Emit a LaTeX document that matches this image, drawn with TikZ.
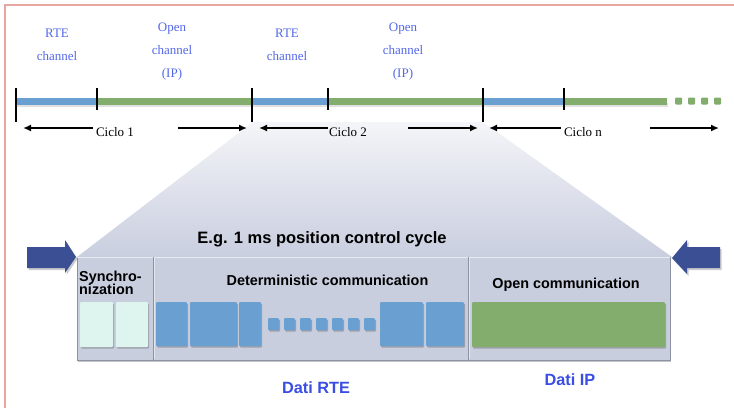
\documentclass[tikz,border=0pt]{standalone}
\usepackage{fontspec}
\setmainfont{Liberation Serif}
\setsansfont{Liberation Sans}
\usetikzlibrary{arrows.meta,shadows}

\definecolor{rteblue}{HTML}{6A9FD2}
\definecolor{ipgreen}{HTML}{82AD6C}
\definecolor{labelblue}{HTML}{5468E8}
\definecolor{datiblue}{HTML}{3A4EE4}
\definecolor{framepink}{HTML}{E8A69E}
\definecolor{panel}{HTML}{C9CEDF}
\definecolor{paneltop}{HTML}{F4F5F8}
\definecolor{edge}{HTML}{8C92A2}
\definecolor{syncfill}{HTML}{DDF5EE}
\definecolor{pointer}{HTML}{3B4F95}

\tikzset{
  chan/.style={font=\fontsize{13}{23}\selectfont, text=labelblue, align=center, inner sep=0pt},
  cyc/.style={font=\fontsize{13}{15}\selectfont, inner sep=0pt, anchor=base},
  cycarrow/.style={-{Latex[length=8pt,width=7pt]}, line width=1.9pt},
  seg/.style={line width=7pt, line cap=butt},
  tickmark/.style={line width=2.8pt, line cap=butt},
  softshadow/.style={drop shadow={shadow xshift=1pt, shadow yshift=-1.5pt, opacity=0.35, fill=black!70}},
  block/.style={rounded corners=1pt, softshadow},
  syncblock/.style={block, fill=syncfill},
  rteblock/.style={block, fill=rteblue},
  ipblock/.style={block, fill=ipgreen},
  head/.style={font=\sffamily\bfseries\fontsize{14.4}{15}\selectfont, inner sep=0pt},
  dati/.style={font=\sffamily\bfseries\fontsize{16.3}{18}\selectfont, text=datiblue, inner sep=0pt, anchor=base},
  pointerarrow/.style={fill=pointer, drop shadow={shadow xshift=1.5pt, shadow yshift=-2pt, opacity=0.4}}
}

\begin{document}
\begin{tikzpicture}[x=1pt,y=-1pt]
\useasboundingbox (0,0) rectangle (734,408);
\fill[white] (0,0) rectangle (734,408);

% page frame
\draw[framepink, line width=1.3pt] (5,408) -- (5,5) -- (734,5);

% zoom funnel from the second cycle down to the panel
\shade[top color=paneltop, bottom color=panel]
  (253,122) -- (483,122) -- (672,257) -- (77,257) -- cycle;

% panel
\fill[panel, drop shadow={shadow xshift=1pt, shadow yshift=-2pt, opacity=0.45}] (77,257) rectangle (670,360);
\draw[edge, line width=0.8pt] (77,257) -- (77,360) -- (670,360) -- (670,257);
\draw[white, opacity=0.6, line width=0.8pt] (77,257.5) -- (670,257.5);
\draw[edge, line width=0.9pt] (153,257) -- (153,360);
\draw[edge, line width=0.9pt] (468,257) -- (468,360);
\draw[white, opacity=0.5, line width=0.6pt] (154.2,258) -- (154.2,359);
\draw[white, opacity=0.5, line width=0.6pt] (469.2,258) -- (469.2,359);

% timeline bar with a faint shadow below
\fill[black!12] (17,103) rectangle (668,107);
\draw[seg, rteblue] (16,101) -- (97,101);
\draw[seg, ipgreen] (97,101) -- (252,101);
\draw[seg, rteblue] (252,101) -- (328,101);
\draw[seg, ipgreen] (328,101) -- (483,101);
\draw[seg, rteblue] (483,101) -- (564,101);
\draw[seg, ipgreen] (564,101) -- (667,101);
\foreach \dx in {675,688,701,714}
  \fill[ipgreen, rounded corners=1pt] (\dx,97.5) rectangle ++(7,7);

% cycle boundaries and channel boundaries
\foreach \tx in {16,252,483} \draw[tickmark] (\tx,88) -- (\tx,122);
\foreach \tx in {97,328,564} \draw[tickmark] (\tx,88) -- (\tx,110);

% channel labels
\node[chan] (rte1) at (57,45) {RTE\\channel};
\node[chan] (ip1) at (172,51.5) {Open\\channel\\(IP)};
\node[chan] (rte2) at (287,45) {RTE\\channel};
\node[chan] (ip2) at (403,51.5) {Open\\channel\\(IP)};

% cycle spans
\node[cyc] (c1) at (115,136) {Ciclo 1};
\node[cyc] (c2) at (348,136) {Ciclo 2};
\node[cyc] (cn) at (583,136) {Ciclo n};
\coordinate (c1l) at (23,128);  \coordinate (c1a) at (178,128); \coordinate (c1r) at (247,128);
\coordinate (c2l) at (259,128); \coordinate (c2a) at (408,128); \coordinate (c2r) at (478,128);
\coordinate (cnl) at (489,128); \coordinate (cna) at (650,128); \coordinate (cnr) at (719,128);
\draw[cycarrow] (c1.west |- c1l) ++(-3,0) -- (c1l);
\draw[cycarrow] (c1a) -- (c1r);
\draw[cycarrow] (c2.west |- c2l) ++(-1,0) -- (c2l);
\draw[cycarrow] (c2a) -- (c2r);
\draw[cycarrow] (cn.west |- cnl) ++(-3,0) -- (cnl);
\draw[cycarrow] (cna) -- (cnr);

% panel headings
\node[font=\sffamily\bfseries\fontsize{16.5}{18}\selectfont, inner sep=0pt, anchor=base] (title) at (322,243) {E.g. 1 ms position control cycle};
\node[head, anchor=north west, align=left] (sync) at (79,270.5) {Synchro-\\[-2pt]nization};
\node[head, anchor=base] (det) at (327.5,285) {Deterministic communication};
\node[head, anchor=base] (open) at (566,288) {Open communication};

% synchronization frames
\draw[syncblock, draw=none] (80,302) rectangle (113,347);
\draw[syncblock, draw=none] (116,302) rectangle (148,347);

% deterministic frames
\foreach \xa/\xb in {156/187, 190/237, 239/261, 380/423, 426/464}
  \draw[rteblock, draw=none] (\xa,302) rectangle (\xb,346);
\foreach \k in {0,...,6}
  \draw[rteblock, draw=none] (268+16*\k,318) rectangle ++(11,12);

% open frame
\draw[ipblock, draw=none] (472,302) rectangle (665,347);

% data labels
\node[dati] (drte) at (316,393) {Dati RTE};
\node[dati] (dip) at (570,385) {Dati IP};

% entry pointers at the panel corners
\fill[pointerarrow] (27,247) -- (65,247) -- (65,240) -- (76,257) -- (65,273) -- (65,268) -- (27,268) -- cycle;
\fill[pointerarrow] (720,247) -- (687,247) -- (687,240) -- (672,258) -- (687,274) -- (687,268) -- (720,268) -- cycle;
\end{tikzpicture}
\end{document}
